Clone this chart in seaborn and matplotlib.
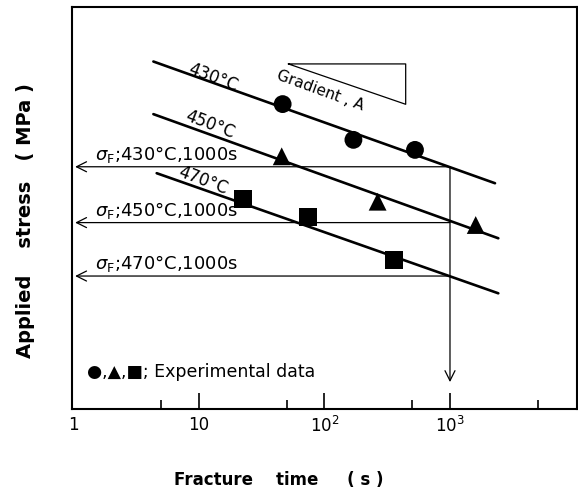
"""
Fracture time vs applied stress (schematic, log time axis)
"""
import matplotlib
matplotlib.use('Agg')
import matplotlib.pyplot as plt
import seaborn as sns
import pandas as pd
import numpy as np

# --- data (stress in arbitrary units, 0 = axis bottom) ---
temps = ['430°C', '450°C', '470°C']
markers = {'430°C': 'o', '450°C': '^', '470°C': 's'}

t430 = [46.4, 170, 526]
s430 = [75.9, 67.0, 64.5]
t450 = [45.6, 265, 1603]
s450 = [62.9, 51.6, 45.8]
t470 = [22.5, 74.3, 358]
s470 = [52.3, 47.8, 37.1]

# fitted lines, end points
fit430_t = [4.33, 2284]
fit430_s = [86.5, 56.2]
fit450_t = [4.33, 2427]
fit450_s = [73.4, 42.5]
fit470_t = [4.6, 2427]
fit470_s = [58.7, 28.8]

# fracture stress at 1000 s
t_ref = 1000
sigma_f = [60.3, 46.4, 33.1]

# gradient triangle
grad_t = [51.5, 443.6, 443.6, 51.5]
grad_s = [85.9, 85.9, 75.85, 85.9]

xticks = [1, 10, 100, 1000]
xticklabels = ['1', '10', '$10^2$', '$10^3$']
xminor = [5, 50, 500, 5000]

points = pd.DataFrame({
    'time': t430 + t450 + t470,
    'stress': s430 + s450 + s470,
    'temp': [temps[0]] * 3 + [temps[1]] * 3 + [temps[2]] * 3,
})
fits = pd.DataFrame({
    'time': fit430_t + fit450_t + fit470_t,
    'stress': fit430_s + fit450_s + fit470_s,
    'temp': [temps[0]] * 2 + [temps[1]] * 2 + [temps[2]] * 2,
})

sns.set_style('white')
plt.rcParams['font.family'] = ['DejaVu Sans']
plt.rcParams['mathtext.fontset'] = 'dejavusans'
plt.rcParams['text.color'] = 'black'
plt.rcParams['axes.labelcolor'] = 'black'
plt.rcParams['xtick.color'] = 'black'

fig = plt.figure(figsize=(5.78, 4.92), dpi=100)
ax = fig.add_axes([0.1246, 0.1687, 0.873, 0.8165])
ax.set_xscale('log')

sns.lineplot(data=fits, x='time', y='stress', units='temp', estimator=None,
             sort=False, color='black', linewidth=1.9, ax=ax)
sns.scatterplot(data=points, x='time', y='stress', style='temp', markers=markers,
                color='black', s=165, linewidth=0, legend=False, ax=ax, zorder=3)

# sigma_F arrows and labels
arrow = dict(arrowstyle='->', lw=0.9, color='black', mutation_scale=18,
             shrinkA=0, shrinkB=0)
for temp, sf in zip(temps, sigma_f):
    ax.annotate('', xy=(1.03, sf), xytext=(t_ref, sf), arrowprops=arrow)
    ax.text(1.48, sf + 0.4, r'$\sigma_{\rm F}$' + f';{temp},1000s',
            fontsize=13, va='bottom', ha='left')
ax.annotate('', xy=(t_ref, 6.7), xytext=(t_ref, sigma_f[0]), arrowprops=arrow)

# temperature labels along the lines
ax.text(12.9, 82.6, temps[0], rotation=-21, fontsize=12, ha='center', va='center')
ax.text(12.2, 70.7, temps[1], rotation=-21, fontsize=12, ha='center', va='center')
ax.text(10.8, 56.8, temps[2], rotation=-21, fontsize=12, ha='center', va='center')

# gradient triangle
ax.plot(grad_t, grad_s, color='black', lw=0.9)
ax.text(92.5, 79.2, 'Gradient , A', rotation=-20, fontsize=11, ha='center', va='center')

ax.text(1.28, 9.2, '●,▲,■; Experimental data', fontsize=12.5, ha='left', va='center')

ax.set_xlim(0.973, 10210)
ax.set_ylim(0, 100)
ax.set_xticks(xticks)
ax.set_xticklabels(xticklabels, fontsize=12)
ax.set_xticks(xminor, minor=True)
ax.set_xticklabels([''] * len(xminor), minor=True)
ax.set_yticks([])
ax.tick_params(axis='x', which='major', direction='in', length=11.5, width=1.2,
               pad=5, bottom=True)
ax.tick_params(axis='x', which='minor', direction='in', length=6.5, width=1.2,
               bottom=True)
# the tick at 1 sits on the frame, only its label shows
ax.xaxis.get_major_ticks()[0].tick1line.set_visible(False)
for sp in ax.spines.values():
    sp.set_linewidth(1.5)
    sp.set_color('black')

ax.set_xlabel('Fracture    time     ( s )', fontsize=12, fontweight='bold')
ax.xaxis.set_label_coords(0.41, -0.155)
ax.set_ylabel('Applied    stress   ( MPa )', fontsize=14, fontweight='bold')
ax.yaxis.set_label_coords(-0.073, 0.468)

plt.savefig('out.png', dpi=100)
plt.close(fig)
